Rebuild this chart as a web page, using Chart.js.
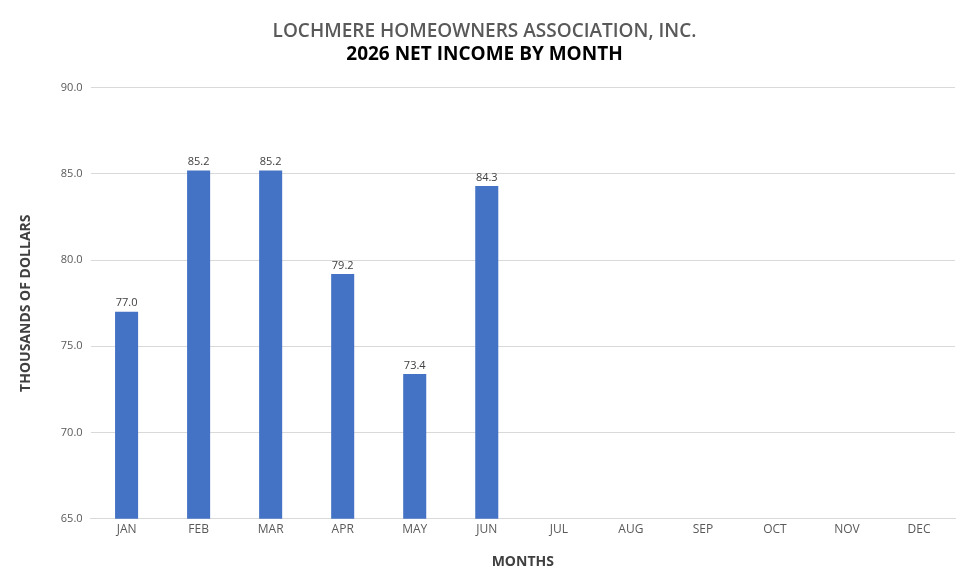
<!DOCTYPE html>
<html>
<head>
<meta charset="utf-8">
<script src="https://cdn.jsdelivr.net/npm/chart.js@4"></script>
<style>
  html, body { margin: 0; padding: 0; background: #fff; }
  #wrap { width: 969px; height: 584px; }
</style>
</head>
<body>
<div id="wrap"><canvas id="myChart"></canvas></div>
<script>
const months = ['JAN', 'FEB', 'MAR', 'APR', 'MAY', 'JUN', 'JUL', 'AUG', 'SEP', 'OCT', 'NOV', 'DEC'];
const netIncome = [77.0, 85.2, 85.2, 79.2, 73.4, 84.3, null, null, null, null, null, null];
const yTicks = [65, 70, 75, 80, 85, 90];

const FONT = "'Open Sans', sans-serif";

// draws the value above each bar
const barLabels = {
  id: 'barLabels',
  afterDatasetsDraw(chart) {
    const c = chart.ctx;
    const meta = chart.getDatasetMeta(0);
    c.save();
    c.font = '11px ' + FONT;
    c.fillStyle = '#404040';
    c.textAlign = 'center';
    c.textBaseline = 'bottom';
    meta.data.forEach((bar, i) => {
      const v = netIncome[i];
      if (v === null) return;
      c.fillText(v.toFixed(1), bar.x, bar.y - 3);
    });
    c.restore();
  }
};

const ctx = document.getElementById('myChart');
new Chart(ctx, {
  type: 'bar',
  data: {
    labels: months,
    datasets: [{
      data: netIncome,
      backgroundColor: '#4472C4',
      barPercentage: 0.32,
      categoryPercentage: 1.0
    }]
  },
  options: {
    responsive: true,
    maintainAspectRatio: false,
    animation: false,
    layout: { padding: { top: 20, right: 14, left: 14, bottom: 10 } },
    plugins: {
      legend: { display: false },
      tooltip: { enabled: false },
      title: {
        display: true,
        text: 'LOCHMERE HOMEOWNERS ASSOCIATION, INC.',
        color: '#595959',
        font: { family: FONT, size: 19, weight: '600' },
        padding: { top: 0, bottom: 0 }
      },
      subtitle: {
        display: true,
        text: '2026 NET INCOME BY MONTH',
        color: '#000000',
        font: { family: FONT, size: 19, weight: 'bold' },
        padding: { top: 0, bottom: 22 }
      }
    },
    scales: {
      x: {
        grid: { display: false, drawTicks: false },
        border: { color: '#d9d9d9', width: 1 },
        ticks: { color: '#595959', font: { family: FONT, size: 12 }, padding: 4 },
        title: {
          display: true, text: 'MONTHS', color: '#404040',
          font: { family: FONT, size: 14, weight: 'bold' }, padding: { top: 12 }
        }
      },
      y: {
        min: 65,
        max: 90,
        afterBuildTicks(axis) { axis.ticks = yTicks.map(v => ({ value: v })); },
        grid: { color: '#d9d9d9', drawTicks: false },
        border: { display: false },
        ticks: {
          color: '#595959', font: { family: FONT, size: 11 }, padding: 8,
          callback: v => Number(v).toFixed(1)
        },
        title: {
          display: true, text: 'THOUSANDS OF DOLLARS', color: '#404040',
          font: { family: FONT, size: 14, weight: 'bold' }, padding: { bottom: 18 }
        }
      }
    }
  },
  plugins: [barLabels]
});
</script>
</body>
</html>
